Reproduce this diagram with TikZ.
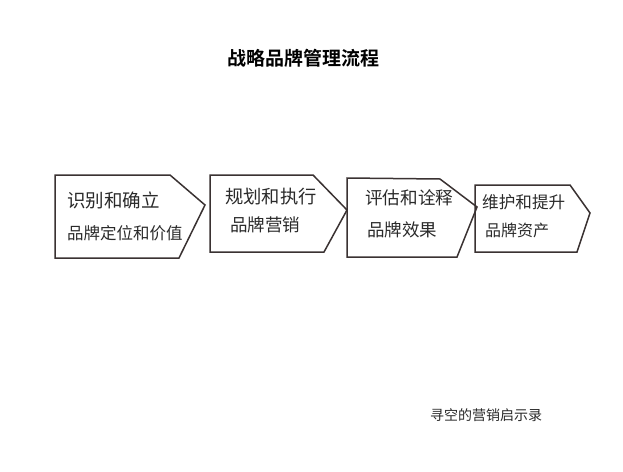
\documentclass[tikz,border=0pt]{standalone}
\usepackage{fontspec}
\newfontfamily\cjk{Noto Sans CJK SC}
\newfontfamily\cjkb{Noto Sans CJK SC Bold}
\definecolor{ink}{HTML}{3A3232}
\definecolor{txt}{HTML}{2A2A2A}
\tikzset{
  arrowbox/.style={draw=ink, line width=1.5pt, line join=miter},
  hand/.style={font=\cjk\fontsize{#1}{20}\selectfont, text=txt, anchor=west, inner sep=0pt},
  hand/.default=17
}
\begin{document}
\begin{tikzpicture}[x=1pt,y=-1pt]
\useasboundingbox[fill=white] (0,0) rectangle (623,471);
\node[font=\cjkb\fontsize{19}{22}\selectfont, text=black] (title) at (303,58) {战略品牌管理流程};
% box 1
\draw[arrowbox] (55,175) -- (170,175) -- (205,205) -- (179,258) -- (55,258) -- cycle;
\node[hand=18.5] (t1a) at (67,200) {识别和确立};
\node[hand=16.5] (t1b) at (67,233) {品牌定位和价值};
% box 2
\draw[arrowbox] (210,175) -- (313,175) -- (347,210) -- (324,252) -- (210,252) -- cycle;
\node[hand=18.3] (t2a) at (225,197) {规划和执行};
\node[hand=17.5] (t2b) at (230,225) {品牌营销};
% box 3
\draw[arrowbox] (347,178) -- (440,179) -- (477,207) -- (457,257) -- (347,257) -- cycle;
\node[hand=17.6] (t3a) at (365,198) {评估和诠释};
\node[hand=17.5] (t3b) at (367,230) {品牌效果};
% box 4
\draw[arrowbox] (475,185) -- (570,185) -- (590,213) -- (577,252) -- (475,252) -- cycle;
\node[hand=16.6] (t4a) at (482,202) {维护和提升};
\node[hand=16] (t4b) at (485,230) {品牌资产};
\node[font=\cjk\fontsize{14}{16}\selectfont, text=txt] (foot) at (486,415) {寻空的营销启示录};
\end{tikzpicture}
\end{document}
